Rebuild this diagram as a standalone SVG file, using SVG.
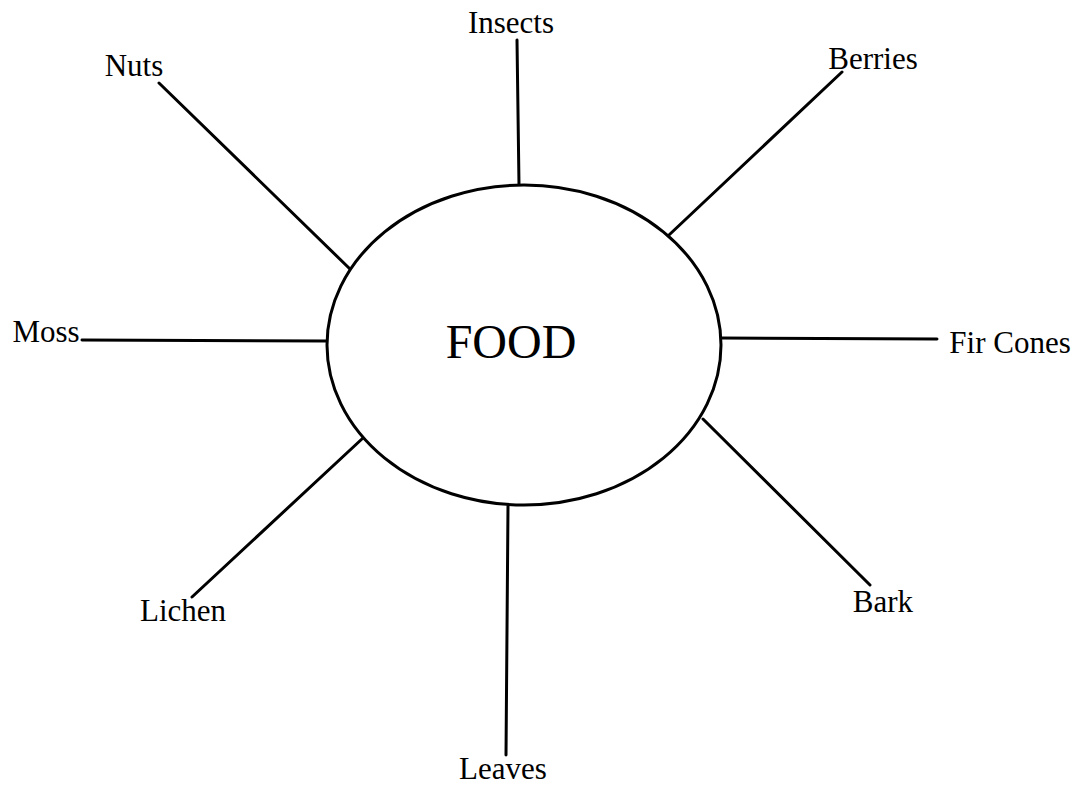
<svg xmlns="http://www.w3.org/2000/svg" width="1088" height="790" viewBox="0 0 1088 790">
<style>
.lbl{font-family:"Liberation Serif","Times New Roman",serif;font-size:31px;fill:#000;text-anchor:middle}
.big{font-family:"Liberation Serif","Times New Roman",serif;font-size:48px;fill:#000;text-anchor:middle}
.ln{stroke:#000;stroke-width:3;fill:none;stroke-linecap:round}
</style>
<rect width="1088" height="790" fill="#fff"/>
<g id="connectors">
<line class="ln" x1="519" y1="185" x2="517" y2="40"/>
<line class="ln" x1="350" y1="269" x2="159" y2="83"/>
<line class="ln" x1="669" y1="235" x2="842" y2="72"/>
<line class="ln" x1="327" y1="341" x2="82" y2="340"/>
<line class="ln" x1="721" y1="338" x2="937" y2="339"/>
<line class="ln" x1="363" y1="438" x2="192" y2="597"/>
<line class="ln" x1="508" y1="506" x2="506" y2="755"/>
<line class="ln" x1="703" y1="419" x2="870" y2="585"/>
</g>
<g id="food">
<ellipse cx="524" cy="345" rx="197" ry="160" fill="#fff" stroke="#000" stroke-width="3"/>
<text class="big" x="511" y="358">FOOD</text>
</g>
<g id="insects"><text class="lbl" x="511" y="33">Insects</text></g>
<g id="nuts"><text class="lbl" x="134" y="76">Nuts</text></g>
<g id="berries"><text class="lbl" x="873" y="69">Berries</text></g>
<g id="moss"><text class="lbl" x="46" y="342">Moss</text></g>
<g id="fircones"><text class="lbl" x="1010" y="353">Fir Cones</text></g>
<g id="lichen"><text class="lbl" x="183" y="621">Lichen</text></g>
<g id="leaves"><text class="lbl" x="503" y="779">Leaves</text></g>
<g id="bark"><text class="lbl" x="883" y="612">Bark</text></g>
</svg>
